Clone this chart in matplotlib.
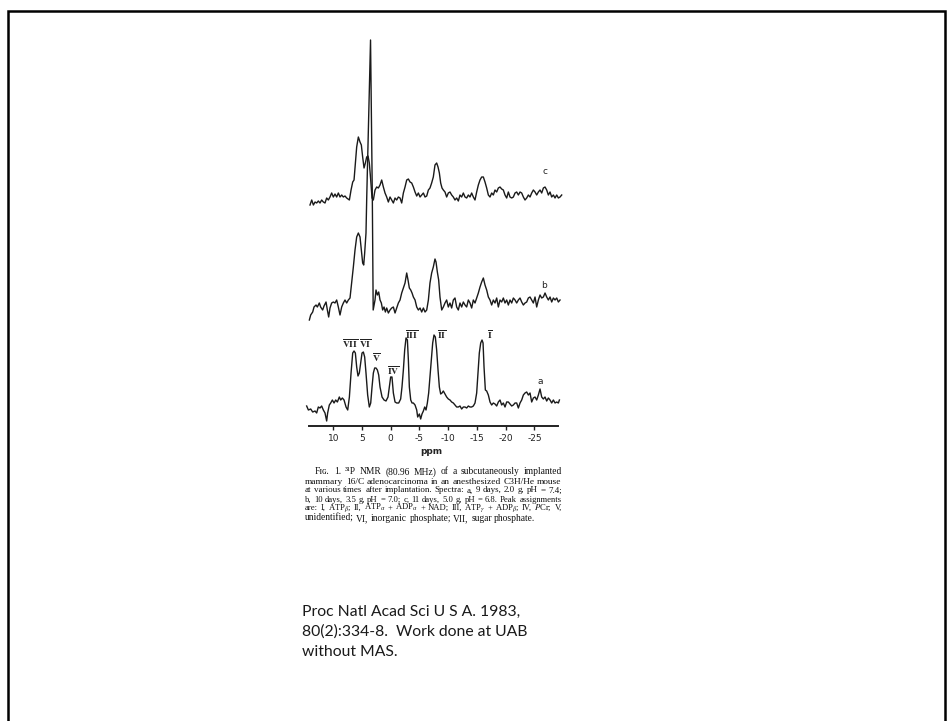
import matplotlib
matplotlib.use("Agg")
import matplotlib.pyplot as plt
import numpy as np

plt.rcParams['axes.unicode_minus'] = False
plt.rcParams['mathtext.fontset'] = 'stix'

# ---------------- data (ppm, intensity relative to each trace's baseline) -------------
ppm_a = [14.62, 14.32, 13.92, 13.57, 13.16, 12.88, 12.59, 12.30, 12.01, 11.72, 11.43, 11.14, 10.97,
         10.68, 10.44, 10.15, 9.86, 9.57, 9.28, 8.94, 8.70, 8.41, 8.12, 7.77, 7.48, 7.19, 6.90, 6.61,
         6.38, 6.15, 5.92, 5.69, 5.46, 5.22, 4.99, 4.76, 4.53, 4.30, 4.01, 3.72, 3.48, 3.25, 3.02, 2.79,
         2.56, 2.32, 2.09, 1.86, 1.51, 1.16, 0.82, 0.47, 0.24, 0.01, -0.22, -0.46, -0.75, -1.04, -1.39,
         -1.73, -1.96, -2.20, -2.43, -2.66, -2.90, -3.07, -3.24, -3.48, -3.71, -3.94, -4.23, -4.52,
         -4.69, -4.98, -5.21, -5.44, -5.68, -5.91, -6.14, -6.37, -6.60, -6.83, -7.07, -7.30, -7.53,
         -7.76, -7.99, -8.23, -8.46, -8.69, -8.92, -9.15, -9.44, -9.73, -10.02, -10.31, -10.60, -10.89,
         -11.18, -11.47, -11.76, -12.05, -12.34, -12.63, -12.92, -13.21, -13.50, -13.79, -14.08,
         -14.37, -14.66, -14.95, -15.18, -15.41, -15.65, -15.88, -16.06, -16.23, -16.46, -16.69,
         -16.98, -17.27, -17.56, -17.85, -18.14, -18.43, -18.72, -19.01, -19.30, -19.59, -19.88,
         -20.17, -20.46, -20.75, -21.04, -21.33, -21.62, -21.91, -22.20, -22.49, -22.78, -23.07,
         -23.36, -23.65, -23.94, -24.23, -24.52, -24.81, -25.10, -25.39, -25.68, -25.97, -26.26,
         -26.55, -26.84, -27.13, -27.42, -27.71, -28.00, -28.29, -28.58, -28.87, -29.16, -29.34]
int_a = [-1, -5, -4, -7, -6, -8, -2, -3, -1, -5, -8, -16, -8,
         0, 2, 5, 2, 5, 3, 8, 5, 7, 5, -2, -5, 8, 32, 52,
         54, 52, 38, 29, 32, 42, 52, 53, 48, 32, 10, -2, 2, 18, 32, 37,
         37, 35, 30, 18, 8, 5, 4, 8, 18, 28, 28, 12, 3, 2, 2,
         6, 18, 35, 55, 67, 65, 45, 18, 5, 2, 2, 0, -5,
         -12, -9, -14, -9, -6, -2, -5, 2, 12, 28, 45, 62, 70,
         68, 55, 35, 18, 11, 12, 14, 11, 8, 6, 5, 3, 2,
         0, -2, -2, -1, -4, -2, -2, -3, -1, -2, -2,
         -1, 2, 12, 32, 52, 62, 65, 62, 38, 15, 14,
         10, 3, 0, 2, 1, -1, 3, 5, 0, 2, -2,
         3, 3, 1, -1, 0, 2, 2, -3, 2, 5, 10,
         12, 13, 10, 12, 3, 7, 8, 5, 10, 16, 8,
         6, 8, 4, 7, 5, 2, 5, 2, 3, 2, 5]

ppm_b = [14.15, 13.92, 13.57, 13.34, 12.99, 12.76, 12.42, 12.19, 11.84, 11.60, 11.25, 11.02, 10.79,
         10.56, 10.27, 9.98, 9.69, 9.40, 9.11, 8.82, 8.53, 8.24, 7.95, 7.66, 7.37, 7.08, 6.79, 6.50,
         6.21, 5.92, 5.63, 5.34, 5.11, 4.88, 4.70, 4.53, 4.30, 4.17, 3.51, 3.20, 3.05, 2.73, 2.56,
         2.32, 2.09, 1.86, 1.63, 1.40, 1.16, 0.93, 0.70, 0.41, 0.12, -0.17, -0.46, -0.75, -1.04,
         -1.33, -1.62, -1.91, -2.20, -2.49, -2.78, -3.01, -3.24, -3.48, -3.71, -3.94, -4.23, -4.52,
         -4.81, -5.10, -5.39, -5.68, -5.97, -6.26, -6.55, -6.83, -7.12, -7.41, -7.70, -7.88, -8.11,
         -8.34, -8.57, -8.87, -9.15, -9.44, -9.73, -10.02, -10.31, -10.60, -10.89, -11.18, -11.47,
         -11.76, -12.05, -12.34, -12.63, -12.92, -13.21, -13.50, -13.79, -14.08, -14.37, -14.66,
         -14.95, -15.24, -15.53, -15.82, -16.11, -16.40, -16.69, -16.98, -17.27, -17.56, -17.85,
         -18.14, -18.43, -18.72, -19.01, -19.30, -19.59, -19.88, -20.17, -20.46, -20.75, -21.04,
         -21.33, -21.62, -21.91, -22.20, -22.49, -22.78, -23.07, -23.36, -23.65, -23.94, -24.23,
         -24.52, -24.81, -25.10, -25.39, -25.68, -25.97, -26.26, -26.55, -26.84, -27.13, -27.42,
         -27.71, -28.00, -28.29, -28.58, -28.87, -29.16, -29.45]
int_b = [-17, -12, -9, -4, -2, -4, 0, -4, -7, -3, 1, -7, -14,
         -5, 0, 1, 0, 3, -4, -12, -4, 0, 3, 0, 3, 5, 20, 36,
         53, 66, 70, 66, 53, 40, 38, 50, 70, 106, 263, 106, -7, 3, 13,
         8, 11, 3, 0, -7, -4, -9, -5, -10, -7, -5, -4, -10, -5,
         0, 3, 10, 15, 20, 30, 23, 15, 13, 10, 6, 3, -4,
         -7, -5, -9, -5, -9, -7, 3, 20, 30, 36, 44, 41, 31,
         23, 6, -7, -4, 0, 3, -4, 0, -5, 3, 5, -4,
         -7, 0, -4, 1, -2, -4, 3, 0, -5, 3, 0,
         5, 10, 16, 21, 25, 18, 13, 6, 3, -2, 3,
         0, 5, -4, 3, 1, 5, 0, 3, -2, 3, 0,
         5, 3, 0, 3, 5, 1, -2, 0, 1, 5, 6,
         3, 0, 6, -4, 3, 8, 5, 6, 10, 6, 3,
         6, 1, 5, 3, 5, 1, 3]

ppm_c = [14.04, 13.74, 13.45, 13.16, 12.88, 12.59, 12.30, 12.01, 11.72, 11.43, 11.14, 10.85, 10.56,
         10.27, 9.98, 9.69, 9.40, 9.11, 8.82, 8.53, 8.24, 7.95, 7.66, 7.19, 6.90, 6.61, 6.38, 6.15,
         5.92, 5.63, 5.34, 5.11, 4.88, 4.64, 4.41, 4.18, 3.95, 3.72, 3.48, 3.25, 3.02, 2.73, 2.44,
         2.15, 1.86, 1.57, 1.28, 0.99, 0.70, 0.41, 0.12, -0.17, -0.46, -0.75, -1.04, -1.33, -1.62,
         -1.91, -2.20, -2.49, -2.78, -3.07, -3.36, -3.65, -3.94, -4.23, -4.52, -4.81, -5.10, -5.39,
         -5.68, -5.97, -6.26, -6.55, -6.83, -7.12, -7.41, -7.70, -7.99, -8.23, -8.46, -8.69, -8.92,
         -9.15, -9.44, -9.73, -10.02, -10.31, -10.60, -10.89, -11.18, -11.47, -11.76, -12.05, -12.34,
         -12.63, -12.92, -13.21, -13.50, -13.79, -14.08, -14.37, -14.66, -14.95, -15.24, -15.53,
         -15.82, -16.11, -16.40, -16.69, -16.98, -17.27, -17.56, -17.85, -18.14, -18.43, -18.72,
         -19.01, -19.30, -19.59, -19.88, -20.17, -20.46, -20.75, -21.04, -21.33, -21.62, -21.91,
         -22.20, -22.49, -22.78, -23.07, -23.36, -23.65, -23.94, -24.23, -24.52, -24.81, -25.10,
         -25.39, -25.68, -25.97, -26.26, -26.55, -26.84, -27.13, -27.42, -27.71, -28.00, -28.29,
         -28.58, -28.87, -29.16, -29.45, -29.74]
int_c = [-8, -3, -8, -5, -6, -4, -6, -3, -5, -6, -1, -3, 0,
         4, 0, 3, 0, 4, 0, 2, 0, 1, -1, -3, 7, 15, 17, 34,
         50, 60, 55, 52, 40, 29, 34, 40, 41, 34, 17, -1, -3, 7, 10,
         9, 12, 17, 10, 4, 0, -5, 0, -3, -6, -1, -3, 0, -1,
         -6, 4, 10, 17, 18, 15, 14, 10, 5, 1, 4, 0, 2,
         4, 0, 1, 7, 9, 14, 20, 32, 34, 30, 24, 14, 9,
         7, 5, 0, 4, 5, 2, 0, -3, -1, -4, 2, 0,
         4, 0, -1, 2, 0, 4, 0, -3, 5, 12, 17,
         20, 20, 15, 9, 2, 0, 4, 2, 7, 5, 9,
         10, 8, 7, 2, -1, 5, 0, -1, 0, 4, 5,
         2, 5, 4, 0, -3, -1, 2, 0, 4, 7, 5,
         2, 5, 7, 4, 9, 10, 7, 2, 5, 0, 2,
         -1, 2, -1, 0, 2]

trace_names = ['a', 'b', 'c']
tick_values = [10, 5, 0, -5, -10, -15, -20, -25]
peak_labels = ['VII', 'VI', 'V', 'IV', 'III', 'II', 'I']

caption_lines = [
    "F\u026a\u0262. 1.  \u00b3\u00b9P NMR (80.96 MHz) of a subcutaneously implanted",
    "mammary 16/C adenocarcinoma in an anesthesized C3H/He mouse",
    "at various times after implantation. Spectra: a, 9 days, 2.0 g, pH = 7.4;",
    "b, 10 days, 3.5 g, pH = 7.0; c, 11 days, 5.0 g, pH = 6.8. Peak assignments",
    r"are: I, ATP$_\beta$; II, ATP$_\alpha$ + ADP$_\alpha$ + NAD; III, ATP$_\gamma$ + ADP$_\beta$; IV, $P$Cr; V,",
    "unidentified; VI, inorganic phosphate; VII, sugar phosphate.",
]
reference_lines = ["Proc Natl Acad Sci U S A. 1983,",
                   "80(2):334-8.  Work done at UAB",
                   "without MAS."]

# ---------------- layout / style ----------------
W, H = 952, 721
fig = plt.figure(figsize=(W / 100, H / 100), dpi=100)
fig.patch.set_facecolor('white')

def fx(px):
    return px / W

def fy(py):
    return 1 - py / H

# slide frame
frame = plt.Line2D([fx(8), fx(8), fx(945), fx(945)], [fy(721), fy(10.5), fy(10.5), fy(721)],
                   transform=fig.transFigure, color='black', lw=1.8, solid_joinstyle='miter')
fig.add_artist(frame)

# spectrum axes: x in ppm, y in display units (0 = axis line)
x_left_ppm, x_right_ppm = 14.7, -29.8
ax_l, ax_r = 306.2, 562.05
ax_bottom, ax_top = 426, 30
ax = fig.add_axes([fx(ax_l), fy(ax_bottom), (ax_r - ax_l) / W, (ax_bottom - ax_top) / H])
ax.set_xlim(x_left_ppm, x_right_ppm)
ax.set_ylim(0, ax_bottom - ax_top)
ax.patch.set_alpha(0)
for s in ['top', 'left', 'right']:
    ax.spines[s].set_visible(False)
ax.spines['bottom'].set_bounds(14.2, -29.1)
ax.spines['bottom'].set_linewidth(1.4)
ax.spines['bottom'].set_color('#222222')
ax.set_yticks([])
ax.set_xticks(tick_values)
ax.set_xticklabels([str(v) for v in tick_values], fontsize=6.5, family='DejaVu Sans',
                   color='#222222')
ax.tick_params(axis='x', direction='out', length=3, width=1.0, pad=2.5, colors='#222222')
ax.set_xlabel('ppm', fontsize=6.5, family='DejaVu Sans', color='#222222', fontweight='bold')
ax.xaxis.set_label_coords((431 - ax_l) / (ax_r - ax_l), -(452 - ax_bottom) / (ax_bottom - ax_top))
ax.xaxis.label.set_va('center')

offsets = {'a': 21, 'b': 123, 'c': 229}
series = {'a': (ppm_a, int_a), 'b': (ppm_b, int_b), 'c': (ppm_c, int_c)}
for name in trace_names:
    xs, ys = series[name]
    ax.plot(xs, np.array(ys) + offsets[name], color='#1a1a1a', lw=1.0, clip_on=False,
            solid_joinstyle='round')

# trace letters
letter_pos = {'a': (-25.97, 44), 'b': (-26.66, 141), 'c': (-26.83, 254)}
for name in trace_names:
    px_, py_ = letter_pos[name]
    ax.text(px_, py_, name, fontsize=6.5, family='DejaVu Sans', ha='center', va='center',
            color='#222222')

# peak assignment labels (roman numerals with bars)
label_pos = [(7.08, 82), (4.47, 82), (2.43, 68), (-0.45, 55), (-3.65, 91), (-8.87, 91), (-17.27, 91)]
for lab, (px_, py_) in zip(peak_labels, label_pos):
    ax.text(px_, py_, r'$\overline{\mathbf{%s}}$' % lab, fontsize=6.8, ha='center', va='center',
            color='#222222')

# caption (justified, shrinking a line slightly if it would be too tight)
cap_baselines = [474.5, 483.5, 492.5, 501.5, 510.2, 521.0]
cap_left = [315, 305, 305, 305, 305, 305]
cap_right = 561.7
min_gap = 2.2

fig.canvas.draw()
renderer = fig.canvas.get_renderer()
for i, line in enumerate(caption_lines):
    words = line.split()
    size = 6.85
    while True:
        texts = [fig.text(0, fy(cap_baselines[i]), w, fontsize=size,
                          family=['Liberation Serif', 'DejaVu Serif'], color='#111111',
                          va='baseline') for w in words]
        widths = [t.get_window_extent(renderer).width for t in texts]
        if i < len(caption_lines) - 1:
            gap = (cap_right - cap_left[i] - sum(widths)) / (len(words) - 1)
        else:
            gap = 2.4
        if gap >= min_gap or size < 5.5:
            break
        for t in texts:
            t.remove()
        size -= 0.1
    x = cap_left[i]
    for t, wd in zip(texts, widths):
        t.set_x(fx(x))
        x += wd + gap

# reference text
ref_baselines = [616, 636, 656]
for line, b in zip(reference_lines, ref_baselines):
    fig.text(fx(301.5), fy(b), line, fontsize=11.3, family='Lato', color='#1a1a1a',
             va='baseline', ha='left')

fig.savefig('out.png', dpi=100, facecolor='white')
